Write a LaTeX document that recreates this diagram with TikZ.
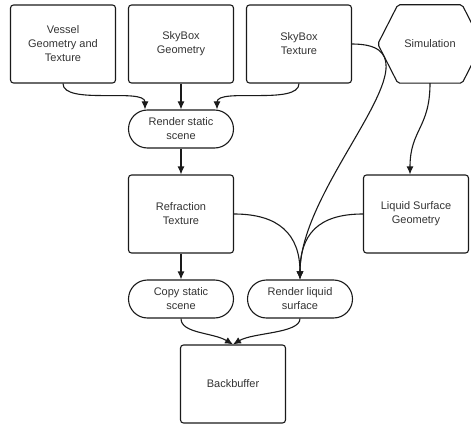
\documentclass[tikz,border=0pt]{standalone}
\usepackage{fontspec}
\setmainfont{Liberation Sans}
\usetikzlibrary{arrows.meta}
\definecolor{inkline}{HTML}{1A1A1A}
\definecolor{labeltext}{HTML}{333333}

\begin{document}
\begin{tikzpicture}[
    x=1pt, y=1pt,
    every node/.style={font=\fontsize{11}{14}\selectfont, text=labeltext, align=center},
    stage/.style={draw=inkline, line width=1.1pt, rounded corners=3pt, minimum width=105pt, minimum height=78pt},
    pass/.style={draw=inkline, line width=1.1pt, rounded corners=19pt, minimum width=105pt, minimum height=38pt},
    hexa/.style={minimum width=104pt, minimum height=78pt},
    feed/.style={-{Latex[length=8pt,width=7pt]}, line width=1.1pt, draw=inkline}
]
\useasboundingbox (0,0) rectangle (471,-425);

% inputs
\node[stage] (vessel) at (63,-44) {Vessel\\Geometry and\\Texture};
\node[stage] (skyg) at (181,-44) {SkyBox\\Geometry};
\node[stage] (skyt) at (299,-44) {SkyBox\\Texture};
\node[hexa] (sim) at (430,-44) {Simulation};
\draw[draw=inkline, line width=1.1pt, rounded corners=2pt]
    (sim.west) -- ([xshift=20pt]sim.north west) -- ([xshift=-20pt]sim.north east)
    -- (sim.east) -- ([xshift=-20pt]sim.south east) -- ([xshift=20pt]sim.south west) -- cycle;

% passes and buffers
\node[pass] (rs) at (181,-129) {Render static\\scene};
\node[stage] (refr) at (181,-214) {Refraction\\Texture};
\node[stage] (lsg) at (416,-214) {Liquid Surface\\Geometry};
\node[pass] (cs) at (181,-299) {Copy static\\scene};
\node[pass] (rl) at (300,-299) {Render liquid\\surface};
\node[stage] (bb) at (233,-384) {Backbuffer};

\draw[feed] (vessel.south) .. controls +(0,-22) and +(0,22) .. ([xshift=-36pt]rs.north);
\draw[feed] (skyg.south) -- (rs.north);
\draw[feed] (skyt.south) .. controls +(0,-22) and +(0,22) .. ([xshift=36pt]rs.north);
\draw[feed] (skyt.east) .. controls +(100,0) and +(0,100) .. (rl.north);
\draw[feed] (sim.south) .. controls +(0,-45) and +(0,45) .. ([xshift=-6pt]lsg.north);
\draw[feed] (rs.south) -- (refr.north);
\draw[feed] (refr.east) .. controls +(45,0) and +(0,45) .. (rl.north);
\draw[feed] (lsg.west) .. controls +(-45,0) and +(0,45) .. (rl.north);
\draw[feed] (refr.south) -- (cs.north);
\draw[feed] (cs.south) .. controls +(0,-15) and +(-20,12) .. (bb.north);
\draw[feed] (rl.south) .. controls +(0,-15) and +(20,12) .. (bb.north);
\end{tikzpicture}
\end{document}
